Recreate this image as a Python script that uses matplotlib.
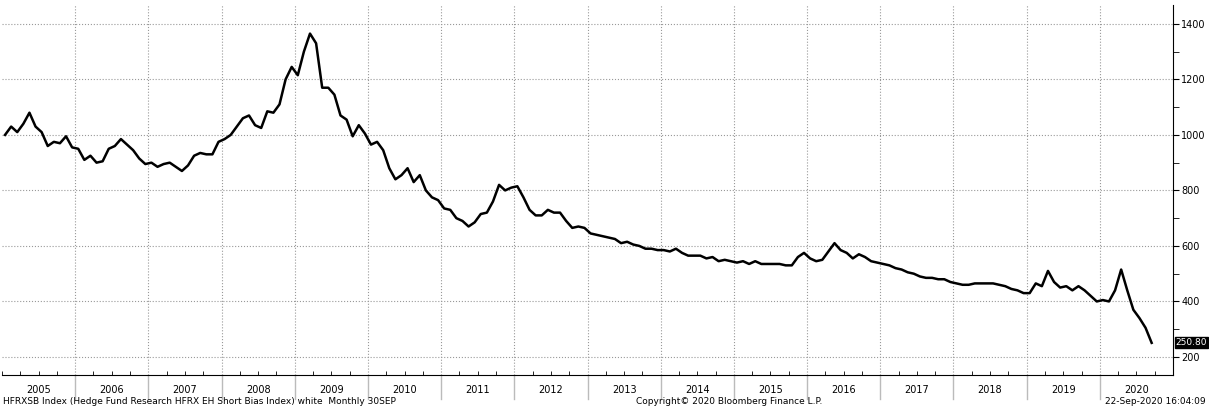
import matplotlib
matplotlib.use("Agg")
import matplotlib.pyplot as plt
import numpy as np

# monthly index levels, Jan 2005 .. Sep 2020
values = [
    1000, 1030, 1010, 1040, 1080, 1030, 1010, 960, 975, 970, 995, 955,   # 2005
    950, 910, 925, 900, 905, 950, 960, 985, 965, 945, 915, 895,          # 2006
    900, 885, 895, 900, 885, 870, 890, 925, 935, 930, 930, 975,          # 2007
    985, 1000, 1030, 1060, 1070, 1035, 1025, 1085, 1080, 1110, 1200, 1245,  # 2008
    1215, 1300, 1365, 1330, 1170, 1170, 1145, 1070, 1055, 995, 1035, 1005,  # 2009
    965, 975, 945, 880, 840, 855, 880, 830, 855, 800, 775, 765,          # 2010
    735, 730, 700, 690, 670, 685, 715, 720, 760, 820, 800, 810,          # 2011
    815, 775, 730, 710, 710, 730, 720, 720, 690, 665, 670, 665,          # 2012
    645, 640, 635, 630, 625, 610, 615, 605, 600, 590, 590, 585,          # 2013
    585, 580, 590, 575, 565, 565, 565, 555, 560, 545, 550, 545,          # 2014
    540, 545, 535, 545, 535, 535, 535, 535, 530, 530, 560, 575,          # 2015
    555, 545, 550, 580, 610, 585, 575, 555, 570, 560, 545, 540,          # 2016
    535, 530, 520, 515, 505, 500, 490, 485, 485, 480, 480, 470,          # 2017
    465, 460, 460, 465, 465, 465, 465, 460, 455, 445, 440, 430,          # 2018
    430, 465, 455, 510, 470, 450, 455, 440, 455, 440, 420, 400,          # 2019
    405, 400, 440, 515, 440, 370, 340, 305, 250.8,                       # 2020
]
years = list(range(2005, 2021))
last_label = "250.80"

x = 2005 + (np.arange(len(values)) + 0.5) / 12.0

fig = plt.figure(figsize=(12.09, 4.09), dpi=100)
ax = fig.add_axes([2 / 1209, 34 / 409, 1171 / 1209, 370 / 409])
ax.plot(x, values, color="black", linewidth=1.8)

ax.set_xlim(2005, 2021)
ax.set_ylim(135, 1468)
ax.yaxis.tick_right()
ax.set_yticks(range(200, 1401, 200))
ax.set_yticks(range(300, 1401, 200), minor=True)
ax.tick_params(axis="y", which="both", direction="out", labelsize=7, length=4, pad=2)
ax.set_xticks(years[1:])
ax.set_xticks(np.arange(2005, 2021, 0.25), minor=True)
ax.tick_params(axis="x", which="major", length=0, labelbottom=False)
ax.tick_params(axis="x", which="minor", direction="in", length=3)
ax.grid(True, which="major", color="#999999", linestyle=":", linewidth=0.8)
for s in ("top", "left"):
    ax.spines[s].set_visible(False)

# year labels and separators below the axis
for yr in years:
    ax.text(yr + 0.5, -0.04, str(yr), transform=ax.get_xaxis_transform(),
            ha="center", va="center", fontsize=7)
    if yr > 2005:
        ax.plot([yr, yr], [0, -0.065], transform=ax.get_xaxis_transform(),
                color="#bbbbbb", linewidth=1, clip_on=False)

ax.annotate(last_label, xy=(1.0, values[-1]), xycoords=("axes fraction", "data"),
            xytext=(2, 0), textcoords="offset points", ha="left", va="center",
            fontsize=6.5, color="white",
            bbox=dict(boxstyle="square,pad=0.12", fc="black", ec="black"))

fig.text(3 / 1209, 3 / 409, "HFRXSB Index (Hedge Fund Research HFRX EH Short Bias Index) white  Monthly 30SEP",
         fontsize=6.5, va="bottom")
fig.text(0.603, 3 / 409, "Copyright\u00a9 2020 Bloomberg Finance L.P.", fontsize=6.5, ha="center", va="bottom")
fig.text(1206 / 1209, 3 / 409, "22-Sep-2020 16:04:09", fontsize=6.5, ha="right", va="bottom")

fig.savefig("out.png", dpi=100)
